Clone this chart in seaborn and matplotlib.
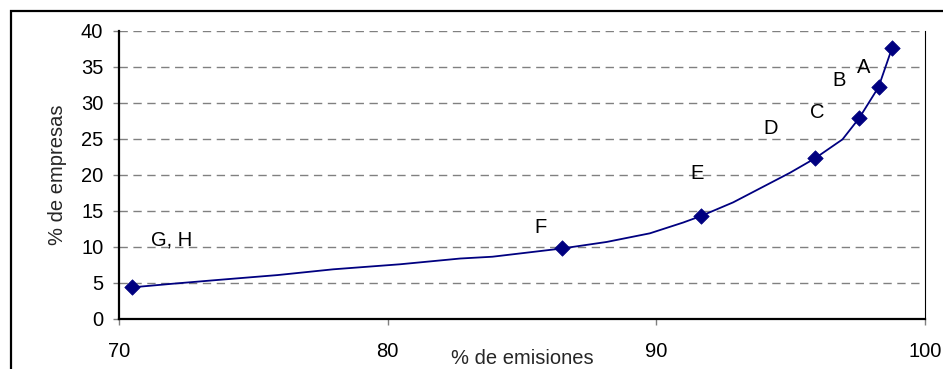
import matplotlib
matplotlib.use("Agg")
import matplotlib.pyplot as plt
import matplotlib.patches as patches
import seaborn as sns
import pandas as pd

# curve of % de empresas vs % de emisiones
curve_x = [70.5, 72.0, 73.6, 75.9, 77.97, 80.46, 82.7, 83.9, 86.5, 88.15, 89.76, 91.0,
           91.66, 92.86, 94.97, 95.9, 96.93, 97.55, 98.27, 98.77]
curve_y = [4.4, 4.9, 5.4, 6.1, 6.9, 7.6, 8.4, 8.65, 9.8, 10.7, 11.9, 13.4,
           14.3, 16.2, 20.3, 22.3, 24.95, 27.9, 32.2, 37.6]

# marked sectors
point_names = ["G, H", "F", "E", "D", "C", "B", "A"]
point_x = [70.5, 86.5, 91.66, 95.9, 97.55, 98.27, 98.77]
point_y = [4.4, 9.8, 14.3, 22.3, 27.9, 32.2, 37.6]

# label offsets from each marker, in pixels
label_dx = [39, -22, -4, -44, -42, -39, -28]
label_dy = [47, 21, 43, 30, 6, 7, -19]

sns.set_theme(style="white")
plt.rcParams['font.family'] = ['Liberation Sans', 'DejaVu Sans']
FS = 14.5

W, H = 943, 369
fig = plt.figure(figsize=(W / 100, H / 100), dpi=100)
fig.patch.set_facecolor("white")
ax = fig.add_axes([119 / W, 1 - 319 / H, (925 - 119) / W, (319 - 31) / H])

curve = pd.DataFrame({"emisiones": curve_x, "empresas": curve_y})
points = pd.DataFrame({"emisiones": point_x, "empresas": point_y, "sector": point_names})

sns.lineplot(data=curve, x="emisiones", y="empresas", ax=ax, color="#000080",
             lw=1.3, sort=False, estimator=None)
sns.scatterplot(data=points, x="emisiones", y="empresas", ax=ax, marker="D",
                s=62, color="#000080", edgecolor="#000080", linewidth=0.5, zorder=5)

for name, x, y, dx, dy in zip(point_names, point_x, point_y, label_dx, label_dy):
    ax.annotate(name, (x, y), xytext=(dx * 0.72, dy * 0.72), textcoords="offset points",
                ha="center", va="center", fontsize=FS, color="black")

ax.set_xlim(70, 100)
ax.set_ylim(0, 40)
ax.set_xticks([70, 80, 90, 100])
ax.set_yticks(range(0, 45, 5))

for yv in range(5, 45, 5):
    ax.axhline(yv, color="#808080", lw=1, ls=(0, (6, 4)), zorder=0)

ax.tick_params(axis="both", which="both", direction="out", length=4.3, width=1,
               color="#808080", labelsize=FS, labelcolor="black")
ax.tick_params(axis="x", pad=12, bottom=True)
ax.tick_params(axis="y", pad=7, left=True)

for side in ["left", "bottom"]:
    ax.spines[side].set_color("black")
    ax.spines[side].set_linewidth(1.6)
ax.spines["right"].set_color("black")
ax.spines["right"].set_linewidth(0.8)
ax.spines["top"].set_visible(False)

ax.set_xlabel("% de emisiones", fontsize=FS, va="center")
ax.xaxis.set_label_coords(0.5, (319 - 358) / 288)
ax.set_ylabel("% de empresas", fontsize=FS, va="center")
ax.yaxis.set_label_coords((57 - 119) / 806, 0.5)

# outer frame of the chart area
frame = patches.Rectangle((10.5 / W, -0.05), 1.0, 1 - 11 / H + 0.05,
                          transform=fig.transFigure, fill=False, lw=1.6,
                          edgecolor="black", clip_on=False)
fig.patches.append(frame)

fig.savefig("out.png", dpi=100)
